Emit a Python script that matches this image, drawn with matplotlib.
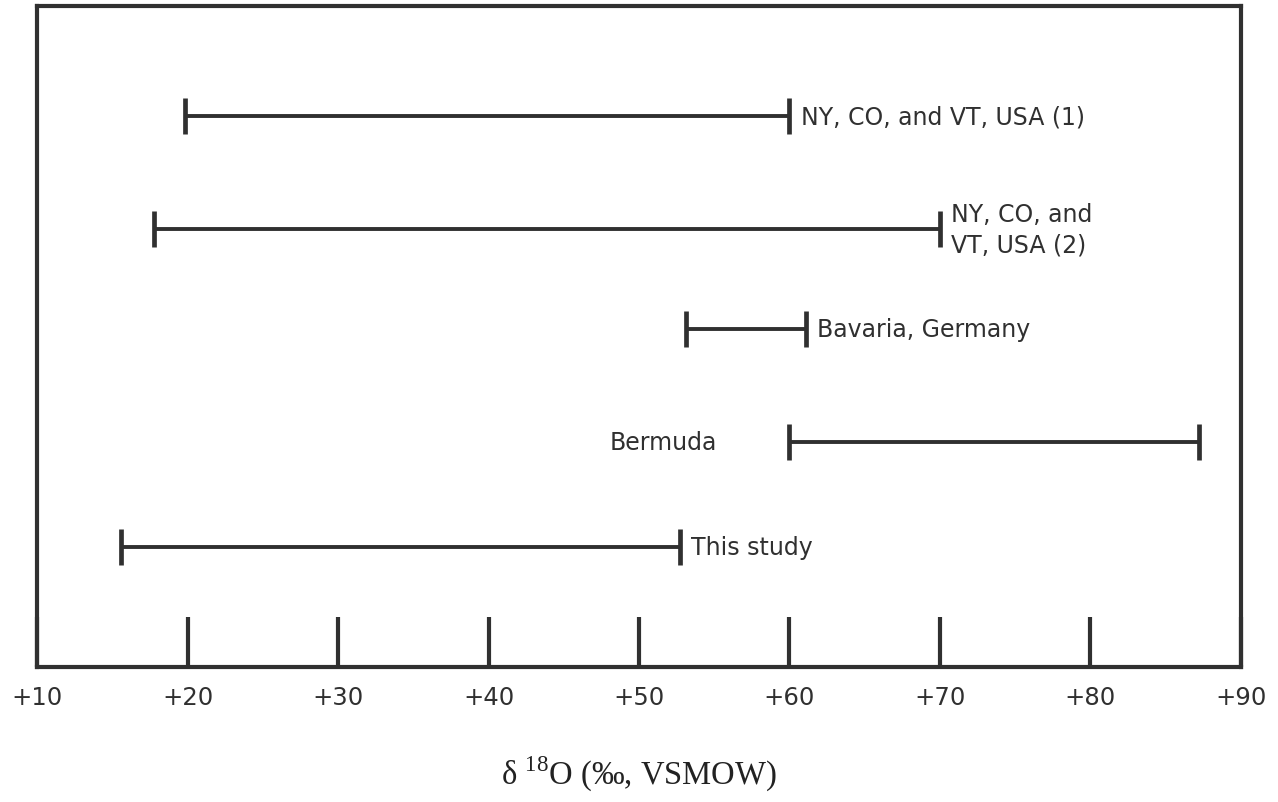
import matplotlib.pyplot as plt

# ranges of d18O for each locality
sites = ["NY, CO, and VT, USA (1)", "NY, CO, and\nVT, USA (2)", "Bavaria, Germany",
         "Bermuda", "This study"]
low = [19.8, 17.8, 53.1, 60.0, 15.6]
high = [60.0, 70.0, 61.1, 87.2, 52.7]
ticks = [10, 20, 30, 40, 50, 60, 70, 80, 90]
tick_labels = ["+10", "+20", "+30", "+40", "+50", "+60", "+70", "+80", "+90"]

rows = [5.51, 4.38, 3.38, 2.25, 1.20]  # vertical slots, top to bottom

plt.rcParams['mathtext.fontset'] = 'custom'
plt.rcParams['mathtext.rm'] = 'Liberation Serif'

fig = plt.figure(figsize=(12.78, 8.03), dpi=100)
ax = fig.add_axes([0.0290, 0.168, 0.942, 0.823])

ink = '#303030'
for y, lo, hi, name in zip(rows, low, high, sites):
    ax.hlines(y, lo, hi, color=ink, lw=2.8)
    ax.vlines([lo, hi], y - 0.18, y + 0.18, color=ink, lw=3.4)
    if name == "Bermuda":
        ax.annotate(name, (lo, y), xytext=(-52, 0), textcoords='offset points',
                    ha='right', va='center', fontsize=17, color=ink)
    else:
        ax.annotate(name, (hi, y), xytext=(8, 0), textcoords='offset points',
                    ha='left', va='center', fontsize=17, color=ink,
                    linespacing=1.35)

ax.set_xlim(10, 90)
ax.set_ylim(0, 6.61)
ax.set_xticks(ticks)
ax.set_xticklabels(tick_labels, fontsize=17.5, color=ink)
ax.tick_params(axis='x', direction='in', length=36, width=3, color=ink, pad=13)
ax.set_yticks([])
for s in ax.spines.values():
    s.set_linewidth(3)
    s.set_color(ink)

ax.set_xlabel(r"δ $^{18}$O (‰, VSMOW)", fontsize=23.5, family='Liberation Serif',
              color='#222222', labelpad=32)

fig.savefig("out.png", dpi=100)
